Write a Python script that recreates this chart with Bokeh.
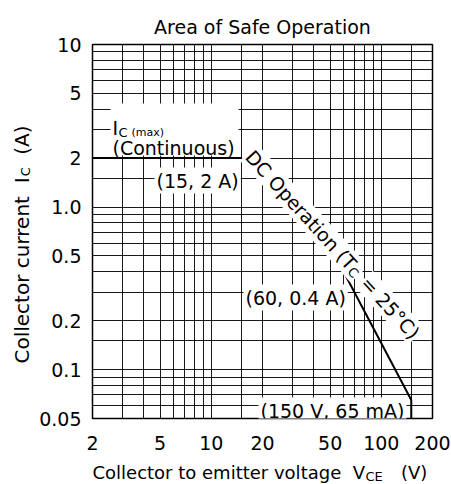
import math
from bokeh.plotting import figure
from bokeh.models import FixedTicker, Label, BoxAnnotation
from bokeh.embed import file_html
from bokeh.resources import INLINE

# ---- data ----
vce = [2, 15, 60, 150, 150]          # V
ic = [2, 2, 0.4, 0.065, 0.05]        # A

x_ticks = [2, 5, 10, 20, 50, 100, 200]
x_tick_labels = ["2", "5", "10", "20", "50", "100", "200"]
y_ticks = [0.05, 0.1, 0.2, 0.5, 1, 2, 5, 10]
y_tick_labels = ["0.05", "0.1", "0.2", "0.5", "1.0", "2", "5", "10"]

x_grid = [3, 4, 5, 6, 7, 8, 9, 10, 15, 20, 30, 40, 50, 60, 70, 80, 90, 100, 150]
y_grid = [0.06, 0.07, 0.08, 0.09, 0.1, 0.15, 0.2, 0.3, 0.4, 0.5, 0.6, 0.7, 0.8, 0.9,
          1, 1.5, 2, 3, 4, 5, 6, 7, 8, 9]

title_text = "Area of Safe Operation"
FONT = "DejaVu Sans"
NB = "\u00a0"

# ---- layout ----
W, H = 451, 484
FRAME_L, FRAME_B = 92, 418   # frame left / bottom in canvas px

p = figure(width=W, height=H, x_axis_type="log", y_axis_type="log",
           x_range=(2, 200), y_range=(0.05, 10), title=None,
           output_backend="svg", toolbar_location=None,
           min_border_left=92, min_border_right=19, min_border_top=44, min_border_bottom=66)

p.background_fill_color = "white"
p.border_fill_color = "white"
p.outline_line_color = "black"
p.outline_line_width = 1.5

for ax, ticks, labels in ((p.xaxis[0], x_ticks, x_tick_labels), (p.yaxis[0], y_ticks, y_tick_labels)):
    ax.ticker = FixedTicker(ticks=ticks)
    ax.major_label_overrides = {t: l for t, l in zip(ticks, labels)}
    ax.axis_line_color = None
    ax.major_tick_line_color = None
    ax.minor_tick_line_color = None
    ax.major_tick_out = 0
    ax.major_tick_in = 0
    ax.major_label_text_font = FONT
    ax.major_label_text_font_size = "19px"
    ax.major_label_text_color = "black"
p.xaxis[0].major_label_standoff = 17
p.yaxis[0].major_label_standoff = 11

p.xgrid[0].ticker = FixedTicker(ticks=x_grid)
p.ygrid[0].ticker = FixedTicker(ticks=y_grid)
for g in (p.xgrid[0], p.ygrid[0]):
    g.grid_line_color = "black"
    g.grid_line_width = 1
    g.grid_line_alpha = 0.9

p.line(vce, ic, line_color="black", line_width=2)


def lab(text, wx, wy, size, align="left", baseline="alphabetic", angle=0.0, bg=None, pad=0):
    """Label inside the plot frame (frame-relative screen units)."""
    p.add_layout(Label(x=wx - FRAME_L, y=FRAME_B - wy, x_units="screen", y_units="screen",
                       text=text, text_font=FONT, text_font_size=f"{size}px",
                       text_color="black", text_align=align, text_baseline=baseline,
                       angle=angle, background_fill_color=bg, padding=pad))


def out_lab(text, wx, wy, size, side, align="left", angle=0.0):
    """Label outside the frame, placed in a side panel (canvas units)."""
    p.add_layout(Label(x=wx, y=wy, x_units="canvas", y_units="canvas",
                       text=text, text_font=FONT, text_font_size=f"{size}px",
                       text_color="black", text_align=align, text_baseline="alphabetic",
                       angle=angle), side)


# title
out_lab(title_text, 262, 26, 19, "above", align="center")

# I_C (max) (Continuous) block with white box
p.add_layout(BoxAnnotation(left=110 - FRAME_L, right=238 - FRAME_L,
                           top=FRAME_B - 103, bottom=FRAME_B - 155,
                           left_units="screen", right_units="screen",
                           top_units="screen", bottom_units="screen",
                           fill_color="white", fill_alpha=1.0, line_color=None))
lab("I", 112, 127, 19)
lab("C", 118, 132, 13)
lab("(max)", 131, 132, 11)
lab("(Continuous)", 112, 147.5, 19)

# point annotations
lab("(15, 2 A)", 154, 180, 19, bg="white", pad=2)
lab("(60, 0.4 A)", 243, 297, 19, bg="white", pad=2)
lab("(150 V, 65 mA)", 258, 410, 19, bg="white", pad=2)

# rotated "DC Operation (T_C = 25°C)"
th = math.radians(47.6)
ux, uy = math.cos(th), math.sin(th)          # reading direction (canvas, y down)
dx, dy = -math.sin(th), math.cos(th)         # toward glyph bottoms
sx, sy = 248.2, 152.0
L1 = 8.082 * 19
lab("DC Operation (T", sx, sy, 19, angle=-th, bg="white", pad=1)
lab("C", sx + L1 * ux + 4 * dx, sy + L1 * uy + 4 * dy, 13, angle=-th, bg="white", pad=1)
L2 = L1 + 9.5 + 8.0
lab("= 25°C)", sx + L2 * ux, sy + L2 * uy, 19, angle=-th, bg="white", pad=1)

# y-axis label (rotated, reads bottom to top), subscript in the right panel
ya = math.pi / 2
y0 = 363
out_lab("Collector current" + NB + NB + "I\u2002" + NB + NB + "(A)", 21, y0, 20, "left", angle=ya)
yC = y0 - (8.411 * 20 + 2 * 6.36 + 0.295 * 20 + 0.5)
out_lab("C", 25, yC, 13, "right", angle=ya)

# x-axis label, subscript in the above panel
x0 = 92
out_lab("Collector to emitter voltage" + NB + NB + "V\u2003\u2003(V)", x0, 472, 18, "below")
xCE = x0 + 248.7 + 2 * 5.72 + 0.684 * 18 + 0.5
out_lab("CE", xCE, 476, 13, "above")

open("out.html", "w").write(file_html(p, INLINE))
